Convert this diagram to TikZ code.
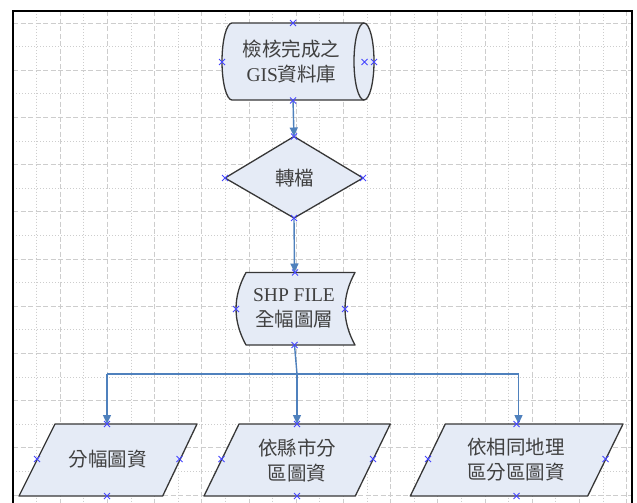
\documentclass[tikz,border=0pt]{standalone}
\usepackage{fontspec}
\setmainfont{Liberation Serif}
\newfontfamily\cjk{Noto Sans CJK TC}
\usetikzlibrary{arrows.meta}
\definecolor{shapefill}{RGB}{229,235,246}
\definecolor{shapeline}{RGB}{55,55,55}
\definecolor{conncol}{RGB}{79,129,189}
\definecolor{cpblue}{RGB}{70,70,255}
\definecolor{gridc}{RGB}{205,205,205}
\definecolor{txtc}{RGB}{64,64,64}
\tikzset{
  gridmajor/.style={gridc, line width=0.7pt, dash pattern=on 5pt off 2.5pt},
  gridminor/.style={gridc, line width=0.7pt, dash pattern=on 1pt off 2pt},
  shapestyle/.style={fill=shapefill, draw=shapeline, line width=1.3pt, line join=round},
  innerline/.style={draw=shapeline, line width=1.3pt},
  conn/.style={conncol, line width=1.4pt},
  connarrow/.style={conn, -{Triangle[length=9pt,width=8pt]}},
  lbl/.style={inner sep=0pt, align=center, text=txtc, font=\fontsize{19.5}{25}\selectfont},
  xmark/.pic={\draw[cpblue, line width=0.8pt] (-3,-3) -- (3,3) (-3,3) -- (3,-3);}
}
\begin{document}
\begin{tikzpicture}[x=1pt,y=-1pt]
\useasboundingbox (0,0) rectangle (637,503);
\fill[white] (0,0) rectangle (637,503);
% grid
\begin{scope}
\clip (13,11.5) rectangle (632,503);
\foreach \k in {1,3,...,25} \draw[gridminor] ({13+23.6*\k},11.5) -- ({13+23.6*\k},503);
\foreach \k in {2,4,...,26} \draw[gridmajor] ({13+23.6*\k},11.5) -- ({13+23.6*\k},503);
\foreach \m in {1,3,...,19} \draw[gridminor] (13,{23+23.6*\m}) -- (632,{23+23.6*\m});
\foreach \m in {0,2,...,20} \draw[gridmajor] (13,{23+23.6*\m}) -- (632,{23+23.6*\m});
\end{scope}
% frame
\draw[line width=2pt, black] (13,503) -- (13,11.5) -- (632,11.5) -- (632,503);

% shapes
\path[shapestyle] (232,23) -- (364,23) .. controls (369.5,23) and (374,40.2) .. (374,61.5)
  .. controls (374,82.8) and (369.5,100) .. (364,100) -- (232,100)
  .. controls (226.5,100) and (222,82.8) .. (222,61.5)
  .. controls (222,40.2) and (226.5,23) .. (232,23) -- cycle;
\draw[innerline] (364,23) .. controls (358.5,23) and (354,40.2) .. (354,61.5)
  .. controls (354,82.8) and (358.5,100) .. (364,100);

\path[shapestyle] (294,136.5) -- (363,178) -- (294,218) -- (225,178) -- cycle;

\path[shapestyle] (246,272.5) -- (355,272.5) .. controls (341.7,296.7) and (341.7,320.8) .. (355,345)
  -- (246,345) .. controls (232.7,320.8) and (232.7,296.7) .. (246,272.5) -- cycle;

\path[shapestyle] (55,424) -- (197,424) -- (162.7,496) -- (19,496) -- cycle;
\path[shapestyle] (239,424) -- (390.3,424) -- (355.3,496) -- (204,496) -- cycle;
\path[shapestyle] (445.3,424) -- (623,424) -- (587.7,496) -- (410.3,496) -- cycle;

% labels
\node[lbl] (db) at (291.5,62) {{\cjk 檢核完成之}\\GIS{\cjk 資料庫}};
\node[lbl] (conv) at (294.5,178.5) {\cjk 轉檔};
\node[lbl] (shp) at (294,308.5) {SHP FILE\\{\cjk 全幅圖層}};
\node[lbl] (p1) at (107.5,459.5) {\cjk 分幅圖資};
\node[lbl] (p2) at (297,460) {{\cjk 依縣市分}\\{\cjk 區圖資}};
\node[lbl] (p3) at (516,460) {{\cjk 依相同地理}\\{\cjk 區分區圖資}};

% connection coordinates
\coordinate (dbS) at (293,100.5);
\coordinate (cvN) at (294,136.5);
\coordinate (cvS) at (294,218);
\coordinate (shpN) at (294.5,272.5);
\coordinate (shpS) at (294.5,345);
\coordinate (J1) at (107,374);
\coordinate (J2) at (297,374);
\coordinate (J3) at (518.5,374);
\coordinate (p1N) at (107,424);
\coordinate (p2N) at (297,424);
\coordinate (p3N) at (518.5,424);

% connectors
\draw[connarrow] (dbS) -- (cvN);
\draw[connarrow] (cvS) -- (shpN);
\draw[conn] (shpS) -- (J2);
\draw[conn] (J1) -- (J3);
\draw[connarrow] (J1) -- (p1N);
\draw[connarrow] (J2) -- (p2N);
\draw[connarrow] (J3) -- (p3N);

% connection point markers
\foreach \p in {(293,23),(222,62),(364.5,62),(374,62),(293,100.5),
  (294,136.5),(225,178),(363,178),(294,218),
  (295,272.5),(236,309),(345,309),(294.5,345),
  (107,424),(37,459),(179.5,459),(107,496),
  (297,424),(221.5,459),(373,459),(297,496),
  (516.5,424),(428,459),(605.5,459),(516.5,496)}
  \pic at \p {xmark};
\end{tikzpicture}
\end{document}
